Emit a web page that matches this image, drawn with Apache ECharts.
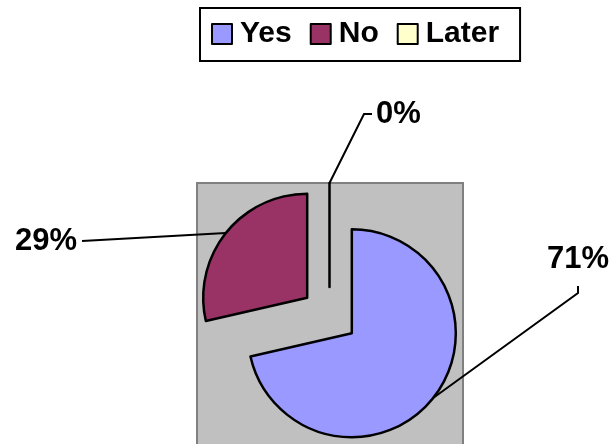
<!DOCTYPE html>
<html>
<head>
<meta charset="utf-8">
<script src="https://cdn.jsdelivr.net/npm/echarts@6/dist/echarts.min.js"></script>
<style>
html,body{margin:0;padding:0;background:#fff;}
#chart{width:612px;height:444px;}
</style>
</head>
<body>
<div id="chart"></div>
<script>
var categories = ['Yes', 'No', 'Later'];
var shares = [71.4, 28.6, 0];
var colors = ['#9999FF', '#993366', '#FFFFCC'];

var FONT = '"Liberation Sans", Arial, sans-serif';
var CENTER = [329.5, 315.5];
var RADIUS = 104;
var EXPLODE = 28.5;
// where each percentage label sits and how its leader line bends (layout only)
var labelSpots = [
  {x: 578, y: 259, align: 'center', bend: [578, 293], end: [578, 286]},
  {x: 77, y: 241, align: 'right', end: [82, 241]},
  {x: 376, y: 114, align: 'left', bend: [364, 114], end: [372, 114]}
];

var chart = echarts.init(document.getElementById('chart'), null, {renderer: 'canvas'});

var pieBase = {
  type: 'pie',
  center: CENTER,
  radius: RADIUS,
  startAngle: 90,
  clockwise: true,
  avoidLabelOverlap: false,
  percentPrecision: 0,
  emphasis: {disabled: true}
};

var option = {
  animation: false,
  backgroundColor: '#ffffff',
  graphic: [{
    type: 'rect', z: -10, silent: true,
    shape: {x: 197, y: 183, width: 266, height: 270},
    style: {fill: '#C0C0C0', stroke: '#808080', lineWidth: 2}
  }],
  legend: {
    left: 200, top: 8,
    orient: 'horizontal',
    data: categories,
    icon: 'rect',
    itemWidth: 20, itemHeight: 20,
    itemGap: 18,
    padding: [11, 21, 12, 11],
    borderColor: '#000', borderWidth: 2,
    selectedMode: false,
    textStyle: {fontFamily: FONT, fontWeight: 'bold', fontSize: 30, color: '#000', lineHeight: 30, padding: [0, 0, 0, 3]}
  },
  series: [
    Object.assign({}, pieBase, {
      name: 'slices',
      selectedMode: 'multiple',
      selectedOffset: EXPLODE,
      itemStyle: {borderColor: '#000', borderWidth: 2.5},
      select: {itemStyle: {borderColor: '#000', borderWidth: 2.5}},
      label: {show: false},
      labelLine: {show: false},
      data: categories.map(function (c, i) {
        return {name: c, value: shares[i], selected: true, itemStyle: {color: colors[i]}};
      })
    }),
    Object.assign({}, pieBase, {
      name: 'labels',
      silent: true,
      z: 3,
      itemStyle: {color: 'rgba(0,0,0,0)', borderWidth: 0},
      label: {
        show: true, position: 'outside', formatter: '{d}%',
        fontFamily: FONT, fontWeight: 'bold', fontSize: 31, color: '#000'
      },
      labelLine: {show: true, length: 10, length2: 10, lineStyle: {color: '#000', width: 2}},
      labelLayout: function (p) {
        var s = labelSpots[p.dataIndex];
        var a = p.labelLinePoints[0];
        var vx = a[0] - CENTER[0], vy = a[1] - CENTER[1];
        var len = Math.sqrt(vx * vx + vy * vy) || 1;
        var start = [a[0] + EXPLODE * vx / len, a[1] + EXPLODE * vy / len];
        var bend = s.bend || [(start[0] + s.end[0]) / 2, (start[1] + s.end[1]) / 2];
        return {
          x: s.x, y: s.y, align: s.align, verticalAlign: 'middle',
          labelLinePoints: [start, bend, s.end]
        };
      },
      data: categories.map(function (c, i) {
        return {name: c, value: shares[i]};
      })
    })
  ]
};
chart.setOption(option);
</script>
</body>
</html>
